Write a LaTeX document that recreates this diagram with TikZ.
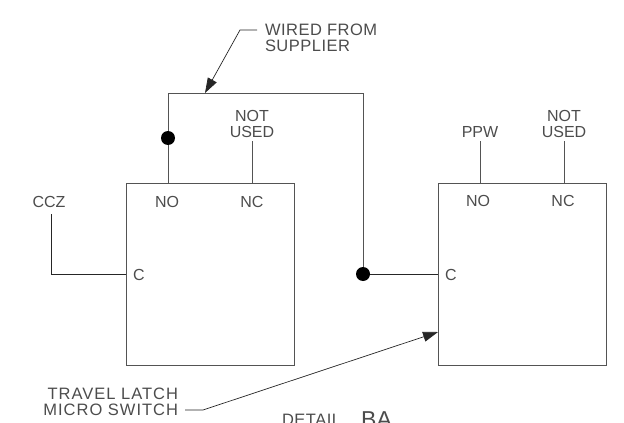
\documentclass[tikz,border=0pt]{standalone}
\usepackage{fontspec}
\setmainfont{Liberation Sans}
\newfontfamily\spacedfont[LetterSpace=6]{Liberation Sans}
\newfontfamily\tightfont[LetterSpace=3]{Liberation Sans}
\usetikzlibrary{arrows.meta}
\tikzset{
  switchbox/.style={draw=wirecol,line width=0.9pt,minimum width=168pt,minimum height=182pt,inner sep=0pt,outer sep=0pt},
  lbl/.style={text=textcol,inner sep=0pt,outer sep=0pt,font=\fontsize{16}{16}\selectfont,align=center},
  spaced/.style={text=textcol,inner sep=0pt,outer sep=0pt,font=\fontsize{16.5}{16}\spacedfont,align=right},
  tight/.style={text=textcol,inner sep=0pt,outer sep=0pt,font=\fontsize{16.5}{16}\tightfont,align=left},
  wire/.style={draw=wirecol,line width=0.9pt},
  feed/.style={draw=black!85,line width=0.8pt},
  junction/.style={circle,fill=black,draw=none,minimum size=14pt,inner sep=0pt,outer sep=0pt},
  leader/.style={draw=black!85,line width=0.7pt,-{Triangle[length=15pt,width=10pt]}},
}
\definecolor{wirecol}{gray}{0.33}
\definecolor{textcol}{gray}{0.3}
\begin{document}
\begin{tikzpicture}[x=1pt,y=-1pt]
\clip (0,0) rectangle (624,423);
\useasboundingbox (0,0) rectangle (624,423);
\node[switchbox] (boxA) at (210,274) {};
\node[switchbox] (boxB) at (522,274) {};
\node[junction] (dotA) at (168,138) {};
\node[junction] (dotB) at (363,274) {};
\node[lbl] (noA) at (167,202) {NO};
\node[lbl] (ncA) at (252,202) {NC};
\node[lbl] (cA) at (139,275) {C};
\node[lbl] (noB) at (478,201) {NO};
\node[lbl] (ncB) at (563,201) {NC};
\node[lbl] (cB) at (451,275) {C};
\node[lbl] (ccz) at (49,202) {CCZ};
\node[lbl] (ppw) at (480,132) {PPW};
\node[lbl,anchor=south] (nuA) at (252,138) {NOT\\USED};
\node[lbl,anchor=south] (nuB) at (564,138) {NOT\\USED};
\node[tight,anchor=west] (wired) at (265,38) {WIRED FROM\\SUPPLIER};
\node[spaced,anchor=east] (travel) at (178,402) {TRAVEL LATCH\\MICRO SWITCH};
\node[tight,anchor=base west] (detail) at (282,425) {DETAIL};
\node[text=textcol,inner sep=0pt,anchor=base west,font=\fontsize{23}{24}\selectfont] (ba) at (361,427) {BA};
\coordinate (topL) at (168,93);
\coordinate (topR) at (363,93);
\coordinate (wireTap) at (205,93);
\coordinate (bendW) at (240,30);
\coordinate (endW) at (257,30);
\coordinate (bendT) at (203,410);
\coordinate (endT) at (185,410);
\coordinate (tipT) at (438,332);
\coordinate (cczTop) at (51,214);
\coordinate (cczBend) at (51,274);
\coordinate (nuAend) at (252,141);
\coordinate (nuBend) at (564,141);
\coordinate (ppwEnd) at (480,141);
\draw[wire] (topL |- boxA.north) -- (dotA) -- (topL) -- (topR) -- (dotB);
\draw[wire] (nuAend) -- (nuAend |- boxA.north);
\draw[wire] (nuBend) -- (nuBend |- boxB.north);
\draw[wire] (ppwEnd) -- (ppwEnd |- boxB.north);
\draw[feed] (cczTop) -- (cczBend) -- (cczBend -| boxA.west);
\draw[feed] (dotB) -- (dotB -| boxB.west);
\draw[leader] (endW) -- (bendW) -- (wireTap);
\draw[leader] (endT) -- (bendT) -- (tipT);
\end{tikzpicture}
\end{document}
